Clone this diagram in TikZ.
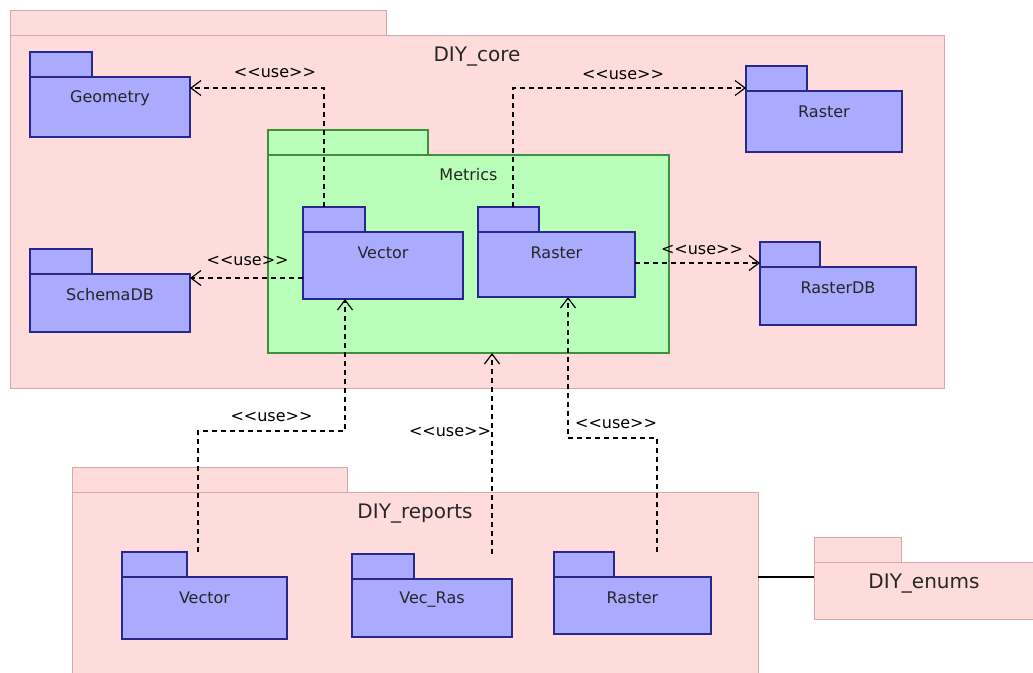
\documentclass[tikz,border=0pt]{standalone}
\usepackage{fontspec}
\setmainfont{DejaVu Sans}
\usetikzlibrary{arrows.meta,calc}

\definecolor{pkgpink}{HTML}{FFDCDC}
\definecolor{pkgpinkline}{HTML}{D6A8A8}
\definecolor{pkgblue}{HTML}{AAAAFF}
\definecolor{pkgblueline}{HTML}{28288C}
\definecolor{pkggreen}{HTML}{B9FFB9}
\definecolor{pkggreenline}{HTML}{3F8F3F}

\tikzset{
  pkgbase/.style={inner sep=0pt, outer sep=0pt},
  pinkbody/.style={pkgbase, draw=pkgpinkline, fill=pkgpink, line width=1pt},
  bluebody/.style={pkgbase, draw=pkgblueline, fill=pkgblue, line width=1.4pt},
  greenbody/.style={pkgbase, draw=pkggreenline, fill=pkggreen, line width=1.2pt},
  pinkname/.style={font=\fontsize{20}{24}\selectfont, text=black!85, yshift=-22pt},
  bluename/.style={font=\fontsize{16}{19}\selectfont, text=black!85, yshift=-21pt},
  greenname/.style={font=\fontsize{16}{19}\selectfont, text=black!85, yshift=-20pt},
  usedep/.style={line width=1.3pt, dash pattern=on 5pt off 4pt,
    -{Straight Barb[length=10pt,width=15pt,line width=1.2pt]}},
  uselabel/.style={font=\fontsize{16}{19}\selectfont, inner sep=0pt, anchor=center},
  assoc/.style={line width=1.3pt}
}

% UML package: #1 name, #2 kind (pink/blue/green), #3,#4 top left of body,
% #5 body width, #6 body height, #7 tab width, #8 package name
\newcommand{\umlpackage}[8]{%
  \node[#2body, minimum width=#5pt, minimum height=#6pt, anchor=north west] (#1) at (#3,#4) {};
  \node[#2body, minimum width=#7pt, minimum height=25pt, anchor=south west] (#1tab) at (#1.north west) {};
  \node[#2name] (#1name) at (#1.north) {#8};
}

\newcommand{\usetext}{<\kern0pt<use>\kern0pt>}

\begin{document}
\begin{tikzpicture}[x=1pt, y=-1pt]
  \clip (0,0) rectangle (1033,672);
  \fill[white] (0,0) rectangle (1033,672);

  % containers
  \umlpackage{core}{pink}{10}{35}{934}{353}{376}{DIY\_core}
  \umlpackage{reports}{pink}{72}{492}{686}{220}{275}{DIY\_reports}
  \umlpackage{enums}{pink}{814}{562}{220}{57}{87}{DIY\_enums}

  % packages inside DIY_core
  \umlpackage{geom}{blue}{30}{77}{160}{60}{62}{Geometry}
  \umlpackage{schema}{blue}{30}{274}{160}{58}{62}{SchemaDB}
  \umlpackage{metrics}{green}{268}{155}{401}{198}{160}{Metrics}
  \umlpackage{mv}{blue}{303}{232}{160}{67}{62}{Vector}
  \umlpackage{mr}{blue}{478}{232}{157}{65}{61}{Raster}
  \umlpackage{rtop}{blue}{746}{91}{156}{61}{61}{Raster}
  \umlpackage{rdb}{blue}{760}{267}{156}{58}{60}{RasterDB}

  % packages inside DIY_reports
  \umlpackage{vb}{blue}{122}{577}{165}{62}{65}{Vector}
  \umlpackage{vr}{blue}{352}{579}{160}{58}{62}{Vec\_Ras}
  \umlpackage{rb}{blue}{554}{577}{157}{57}{60}{Raster}

  % connector end points
  \coordinate (c1) at ([xshift=21pt]mvtab.north west);
  \coordinate (c2) at ([xshift=35pt]mrtab.north west);
  \coordinate (c3) at ([yshift=-46pt]mv.north west);
  \coordinate (c4) at ([yshift=-31pt]mr.north east);
  \coordinate (c5) at ([xshift=11pt]vbtab.north east);
  \coordinate (c6) at ([xshift=78pt]vrtab.north east);
  \coordinate (c7) at ([xshift=43pt]rbtab.north east);
  \coordinate (c8) at ([yshift=-15pt]enums.north west);

  % <<use>> dependencies
  \draw[usedep] (c1) |- node[uselabel, pos=0.683, yshift=15pt] (l1) {\usetext}
    ([yshift=-11pt]geom.north east);
  \draw[usedep] (c2) |- node[uselabel, pos=0.736, yshift=13pt] (l2) {\usetext}
    ([yshift=3pt]rtop.north west);
  \draw[usedep] (c3) -- node[uselabel, pos=0.49, yshift=17pt] (l3) {\usetext}
    (c3 -| schema.east);
  \draw[usedep] (c4) -- node[uselabel, pos=0.536, yshift=13pt] (l4) {\usetext}
    (c4 -| rdb.west);
  \draw[usedep] (c5) -- ++(0,-121) -| node[uselabel, pos=0.25, yshift=14pt] (l5) {\usetext}
    ([xshift=42pt]mv.south west);
  \draw[usedep] (c6) -- node[uselabel, pos=0.607, xshift=-42pt] (l6) {\usetext}
    (c6 |- metrics.south);
  \draw[usedep] (c7) -- ++(0,-114) -| node[uselabel, pos=0.23, yshift=14pt] (l7) {\usetext}
    ([xshift=90pt]mr.south west);

  % plain association between the report and enum packages
  \draw[assoc] (c8) -- (c8 -| reports.east);
\end{tikzpicture}
\end{document}
